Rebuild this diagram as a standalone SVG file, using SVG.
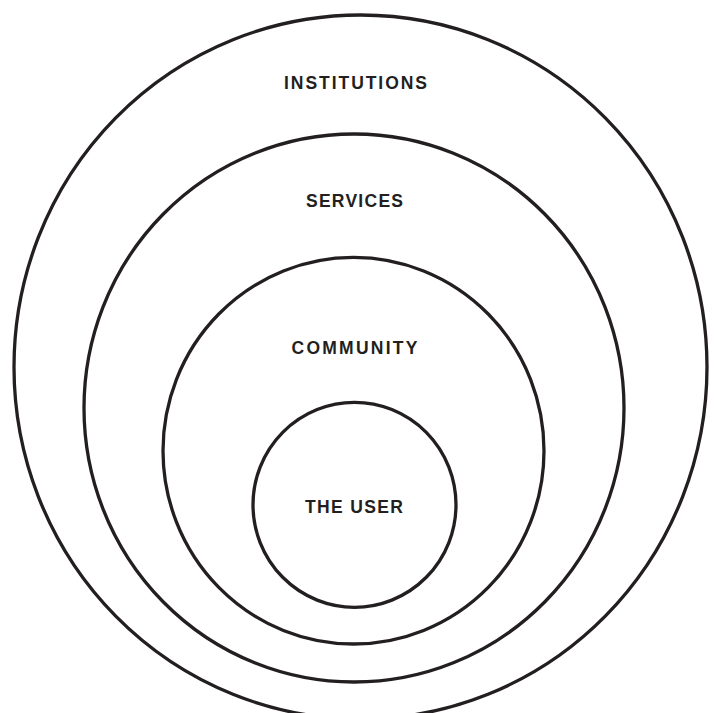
<svg xmlns="http://www.w3.org/2000/svg" width="714" height="713" viewBox="0 0 714 713">
<style>
.ring{fill:none;stroke:#231f20;stroke-width:3.3}
.lbl{font-family:"Liberation Sans",Arial,sans-serif;font-weight:bold;font-size:17.5px;fill:#231f20;text-anchor:middle}
</style>
<rect width="714" height="713" fill="#fff"/>
<g id="institutions"><ellipse class="ring" cx="360.5" cy="367" rx="346.5" ry="352"/><text class="lbl" x="355.5" y="89" textLength="143" lengthAdjust="spacing">INSTITUTIONS</text></g>
<g id="services"><ellipse class="ring" cx="354" cy="408" rx="270" ry="274"/><text class="lbl" x="354.5" y="207" textLength="97" lengthAdjust="spacing">SERVICES</text></g>
<g id="community"><ellipse class="ring" cx="353.5" cy="450.7" rx="190.5" ry="193.3"/><text class="lbl" x="354.5" y="354" textLength="126" lengthAdjust="spacing">COMMUNITY</text></g>
<g id="the-user"><ellipse class="ring" cx="354.5" cy="504.8" rx="101.5" ry="102.5"/><text class="lbl" x="354" y="513" textLength="98" lengthAdjust="spacing">THE USER</text></g>
<g id="connectors"/>
</svg>
